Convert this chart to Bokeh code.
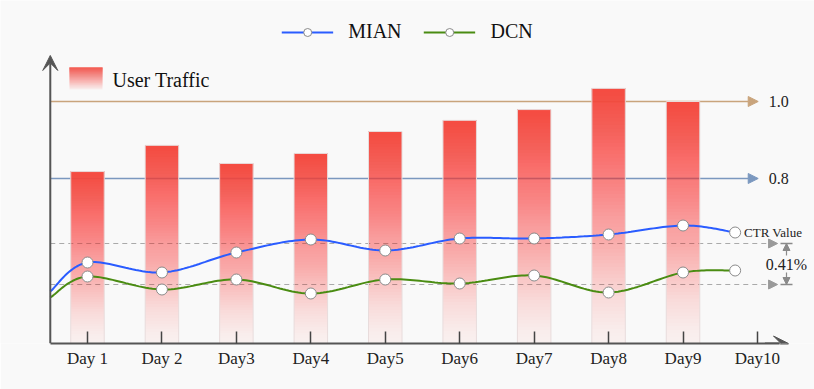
import numpy as np
from bokeh.plotting import figure
from bokeh.models import (Range1d, FixedTicker, Arrow, NormalHead, VeeHead, TeeHead,
                          Label, Legend, LegendItem)
from bokeh.embed import file_html
from bokeh.resources import INLINE

# ---------------- data ----------------
days = ["Day 1", "Day 2", "Day3", "Day4", "Day5", "Day6", "Day7", "Day8", "Day9", "Day10"]
user_traffic = [0.818, 0.886, 0.839, 0.865, 0.922, 0.951, 0.979, 1.034, 1.000]
mian_ctr = [2.81, 2.71, 2.91, 3.04, 2.93, 3.05, 3.05, 3.09, 3.18]
dcn_ctr = [2.67, 2.54, 2.64, 2.50, 2.64, 2.60, 2.68, 2.51, 2.71]
mian_lead, mian_tail = 2.52, 3.11
dcn_lead, dcn_tail = 2.46, 2.73
traffic_refs = [1.0, 0.8]
traffic_ref_labels = ["1.0", "0.8"]
ctr_refs = [3.00, 2.59]
gap_label = "0.41%"
ctr_label = "CTR Value"
series_names = ["MIAN", "DCN"]

# ---------------- style ----------------
SERIF = "Times New Roman"
BG = "#f9f9f9"
RED = "#f64c42"
BLUE = "#2a5cff"
GREEN = "#4a8c12"
AXIS = "#555555"
TR0, TR1 = 0.3714, 1.2623
X_AXIS_START = 0.5
LEAD_X, TAIL_X = 0.5, 9.7

x_day = np.arange(1, len(user_traffic) + 1)

p = figure(width=814, height=389, output_backend="svg", toolbar_location=None,
           x_range=Range1d(-0.1687, 10.7662), y_range=Range1d(TR0, TR1),
           y_axis_location=None,
           min_border_left=0, min_border_right=0, min_border_top=0, min_border_bottom=46,
           background_fill_color=BG, border_fill_color=BG, outline_line_color=None)
p.extra_y_ranges = {"ctr": Range1d(2.00, 5.43)}
p.grid.visible = False

# ---------------- reference lines (behind bars) ----------------
ref_colors = ["#c9a47c", "#7b98bf"]
for v, c, lab in zip(traffic_refs, ref_colors, traffic_ref_labels):
    p.add_layout(Arrow(x_start=X_AXIS_START, y_start=v, x_end=10.01, y_end=v,
                       line_color=c, line_width=1.5, level="underlay",
                       end=NormalHead(size=10, fill_color=c, line_color=c)))
    p.add_layout(Label(x=10.15, y=v, text=lab, text_font=SERIF, text_font_size="16px",
                       text_color="#222222", text_baseline="alphabetic"))

for v in ctr_refs:
    p.add_layout(Arrow(x_start=X_AXIS_START, y_start=v, x_end=10.27, y_end=v, y_range_name="ctr",
                       line_color="#aaaaaa", line_width=1, line_dash="5 4", level="underlay",
                       end=NormalHead(size=9, fill_color="#9a9a9a", line_color="#9a9a9a")))


# ---------------- gradient bars (nested layers, no seams) ----------------
def layer_alphas(n, lo, hi, gamma):
    f = (np.arange(n) + 0.5) / n
    eff = lo + (hi - lo) * f ** gamma
    a = np.empty(n)
    a[0] = eff[0]
    a[1:] = 1 - (1 - eff[1:]) / (1 - eff[:-1])
    return a


N = 70
lay_a = layer_alphas(N, 0.05, 1.0, 1.2)
L, R, B, T, A = [], [], [], [], []
for xi, t in zip(x_day, user_traffic):
    edges = TR0 + (t - TR0) * np.arange(N) / N
    L += [xi - 0.225] * N
    R += [xi + 0.225] * N
    B += list(edges)
    T += [t] * N
    A += list(lay_a)
p.quad(left=L, right=R, bottom=B, top=T, fill_color=RED, fill_alpha=A, line_color=None)
p.quad(left=x_day - 0.225, right=x_day + 0.225, bottom=TR0, top=user_traffic,
       fill_color=None, line_color="#e8dcdc", line_width=1)

# User Traffic legend swatch
M = 24
sw_b, sw_t = 1.0312, 1.0883
p.quad(left=0.758, right=1.2015, bottom=list(sw_b + (sw_t - sw_b) * np.arange(M) / M), top=sw_t,
       fill_color=RED, fill_alpha=list(layer_alphas(M, 0.05, 0.9, 1.0)), line_color=None)
p.add_layout(Label(x=1.336, y=1.0571, text="User Traffic", text_font=SERIF, text_font_size="20px",
                   text_color="#111111", text_baseline="middle"))


# ---------------- smooth CTR lines ----------------
def catmull_rom(xs, ys, steps=24):
    P = np.column_stack([xs, ys]).astype(float)
    P = np.vstack([P[0], P, P[-1]])
    out = []
    t = np.linspace(0, 1, steps, endpoint=False)[:, None]
    for i in range(1, len(P) - 2):
        p0, p1, p2, p3 = P[i - 1], P[i], P[i + 1], P[i + 2]
        seg = 0.5 * ((2 * p1) + (-p0 + p2) * t + (2 * p0 - 5 * p1 + 4 * p2 - p3) * t ** 2
                     + (-p0 + 3 * p1 - 3 * p2 + p3) * t ** 3)
        out.append(seg)
    out.append(P[-2][None, :])
    arr = np.vstack(out)
    return arr[:, 0], arr[:, 1]


renderers = []
for vals, lead, tail, col in [(mian_ctr, mian_lead, mian_tail, BLUE), (dcn_ctr, dcn_lead, dcn_tail, GREEN)]:
    xs = [LEAD_X] + list(x_day) + [TAIL_X]
    ys = [lead] + list(vals) + [tail]
    sx, sy = catmull_rom(xs, ys)
    ln = p.line(sx, sy, line_color=col, line_width=2, y_range_name="ctr")
    pts = p.scatter(list(x_day) + [TAIL_X], list(vals) + [tail], size=11, fill_color="white",
                    line_color="#8a8a8a", line_width=1, y_range_name="ctr")
    renderers.append((ln, pts))

# gap annotation
gx = 10.39
mid = (ctr_refs[0] + ctr_refs[1]) / 2
p.add_layout(Arrow(x_start=gx, y_start=ctr_refs[0], x_end=gx, y_end=ctr_refs[1], y_range_name="ctr",
                   line_color="#8a8a8a", line_width=1.2,
                   start=TeeHead(size=12, line_color="#8a8a8a", line_width=1.5),
                   end=TeeHead(size=12, line_color="#8a8a8a", line_width=1.5)))
for v in ctr_refs:
    p.add_layout(Arrow(x_start=gx, y_start=mid, x_end=gx, y_end=v, y_range_name="ctr",
                       line_alpha=0,
                       end=NormalHead(size=7, fill_color="#8a8a8a", line_color="#8a8a8a")))
p.add_layout(Label(x=gx, y=mid, y_range_name="ctr", text=gap_label, text_font=SERIF,
                   text_font_size="16px", text_color="#222222", text_align="center",
                   text_baseline="middle", background_fill_color=BG))
p.add_layout(Label(x=9.82, y=mian_tail, y_range_name="ctr", text=ctr_label, text_font=SERIF,
                   text_font_size="13px", text_color="#222222", text_baseline="middle"))

# ---------------- axes ----------------
ax = p.xaxis[0]
ax.ticker = FixedTicker(ticks=list(range(1, len(days) + 1)))
ax.major_label_overrides = {i + 1: d for i, d in enumerate(days)}
ax.bounds = (X_AXIS_START, 10.3)
ax.axis_line_color = AXIS
ax.axis_line_width = 2
ax.major_tick_in = 12
ax.major_tick_out = 0
ax.major_tick_line_color = "#444444"
ax.major_tick_line_width = 1.5
ax.minor_tick_line_color = None
ax.major_label_text_font = SERIF
ax.major_label_text_font_size = "17px"
ax.major_label_text_color = "#222222"
ax.major_label_standoff = 5

p.add_layout(Arrow(x_start=10.1, y_start=TR0, x_end=10.417, y_end=TR0, line_color=AXIS, line_width=2,
                   end=VeeHead(size=15, fill_color=AXIS, line_color=AXIS)))
p.add_layout(Arrow(x_start=X_AXIS_START, y_start=TR0, x_end=X_AXIS_START, y_end=1.1195,
                   line_color=AXIS, line_width=2,
                   end=VeeHead(size=15, fill_color=AXIS, line_color=AXIS)))

# ---------------- top legend ----------------
legend = Legend(items=[LegendItem(label=n, renderers=list(r)) for n, r in zip(series_names, renderers)],
                orientation="horizontal", location="top_center", margin=18, padding=2,
                spacing=22, glyph_width=52, glyph_height=20, label_standoff=15,
                label_text_font=SERIF, label_text_font_size="20px", label_text_color="#111111",
                background_fill_alpha=0, border_line_alpha=0)
p.add_layout(legend)

open("out.html", "w").write(file_html(p, INLINE))
